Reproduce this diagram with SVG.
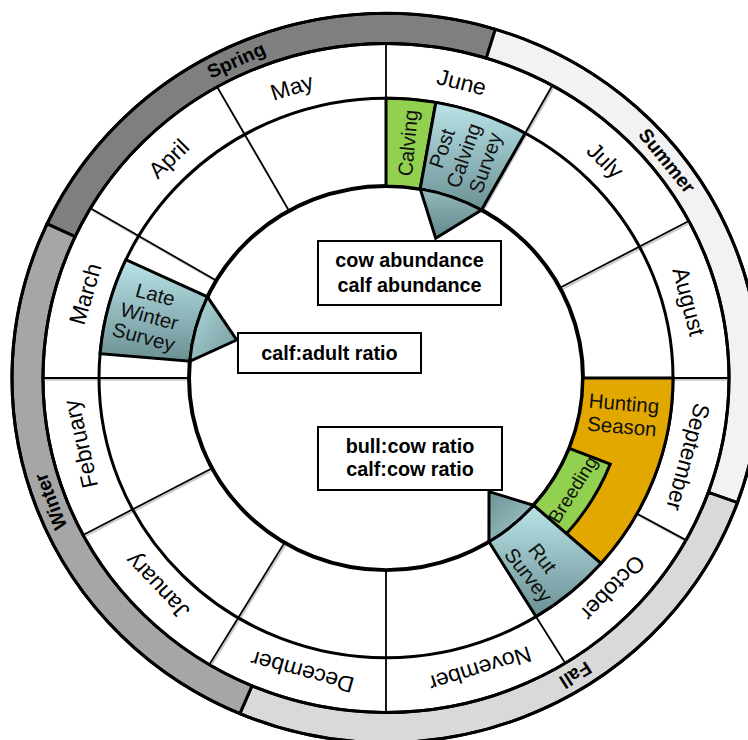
<svg xmlns="http://www.w3.org/2000/svg" width="748" height="740" viewBox="0 0 748 740">
<defs>
<style>
.ring{stroke:#000;stroke-width:3;stroke-linejoin:miter}
.circ{fill:none;stroke:#000;stroke-width:3}
.div{stroke:#000;stroke-width:1.8;fill:none}
.sh{stroke:#c8c8c8;stroke-width:2;fill:none}
.ev{stroke:#000;stroke-width:3;stroke-linejoin:miter}
.m{font-family:"Liberation Sans",Arial,sans-serif;font-size:23px;fill:#000;text-anchor:middle;dominant-baseline:central}
.s{font-family:"Liberation Sans",Arial,sans-serif;font-size:19.5px;font-weight:bold;fill:#000;text-anchor:middle;dominant-baseline:central}
.e{font-family:"Liberation Sans",Arial,sans-serif;font-size:20.5px;fill:#111;text-anchor:middle;dominant-baseline:central}
.b{font-family:"Liberation Sans",Arial,sans-serif;font-size:19.8px;font-weight:bold;fill:#000;text-anchor:middle}
.box{fill:#fff;stroke:#000;stroke-width:2}
</style>
<linearGradient id="gBlue" x1="0" y1="0" x2="0" y2="1"><stop offset="0" stop-color="#b9e4e8"/><stop offset="1" stop-color="#6b9094"/></linearGradient>
<linearGradient id="gTriLW" x1="0" y1="0" x2="1" y2="1"><stop offset="0" stop-color="#b2dade"/><stop offset="1" stop-color="#74999d"/></linearGradient>
<linearGradient id="gTriPC" x1="0" y1="0" x2="0" y2="1"><stop offset="0" stop-color="#94babe"/><stop offset="1" stop-color="#62878b"/></linearGradient>
<linearGradient id="gTriRut" x1="0" y1="0" x2="1" y2="1"><stop offset="0" stop-color="#6d9397"/><stop offset="1" stop-color="#a5cbcf"/></linearGradient>
</defs>
<rect width="748" height="740" fill="#fff"/>
<g transform="translate(386,378) scale(1,0.975)">
  <g id="seasons">
    <path id="season-spring" class="ring" fill="#7f7f7f" d="M -338.96 -158.06 A 374 374 0 0 1 109.35 -357.66 L 100.28 -328.01 A 343 343 0 0 0 -310.86 -144.96 Z"/>
    <path id="season-summer" class="ring" fill="#f2f2f2" d="M 109.35 -357.66 A 374 374 0 0 1 351.44 127.92 L 322.31 117.31 A 343 343 0 0 0 100.28 -328.01 Z"/>
    <path id="season-fall" class="ring" fill="#d9d9d9" d="M 351.44 127.92 A 374 374 0 0 1 -146.13 344.27 L -134.02 315.73 A 343 343 0 0 0 322.31 117.31 Z"/>
    <path id="season-winter" class="ring" fill="#a6a6a6" d="M -146.13 344.27 A 374 374 0 0 1 -338.96 -158.06 L -310.86 -144.96 A 343 343 0 0 0 -134.02 315.73 Z"/>
  </g>
  <g id="month-dividers">
    <g transform="translate(1.2,1.8)">
      <path class="sh" d="M 95.51 -172.30 L 166.29 -300.00 M 173.94 -92.49 L 302.85 -161.03 M 197 0 L 343 0 M 172.30 95.51 L 300.00 166.29 M 102.93 167.97 L 179.22 292.46 M -101.46 168.86 L -176.66 294.01 M -173.94 92.49 L -302.85 161.03 M -197 0 L -343 0 M -169.74 -99.99 L -295.54 -174.09 M -97.01 -171.46 L -168.90 -298.53"/>
    </g>
    <path class="div" d="M 0 -197 L 0 -343 M 95.51 -172.30 L 166.29 -300.00 M 173.94 -92.49 L 302.85 -161.03 M 197 0 L 343 0 M 172.30 95.51 L 300.00 166.29 M 102.93 167.97 L 179.22 292.46 M 0 197 L 0 343 M -101.46 168.86 L -176.66 294.01 M -173.94 92.49 L -302.85 161.03 M -197 0 L -343 0 M -169.74 -99.99 L -295.54 -174.09 M -97.01 -171.46 L -168.90 -298.53"/>
  </g>
  <g id="rings">
    <circle class="circ" r="374"/>
    <circle class="circ" r="343"/>
    <circle class="circ" r="287"/>
    <circle class="circ" r="197" style="stroke-width:4"/>
  </g>
  <g id="hunting-season">
    <path class="ev" fill="#e3a800" d="M 287 0 A 287 287 0 0 1 214.95 190.17 L 147.55 130.54 A 197 197 0 0 0 197 0 Z"/>
  </g>
  <g id="breeding">
    <path class="ev" fill="#92d050" d="M 183.29 72.20 L 224.23 88.33 A 241 241 0 0 1 180.50 159.69 L 147.55 130.54 A 197 197 0 0 0 183.29 72.20 Z"/>
    <text class="e" style="font-size:19px" transform="rotate(121.5) translate(0,-219) rotate(180)">Breeding</text>
  </g>
  <g id="calving">
    <path class="ev" fill="#92d050" d="M 0 -287 A 287 287 0 0 1 49.84 -282.64 L 34.21 -194.01 A 197 197 0 0 0 0 -197 Z"/>
    <text class="e" transform="rotate(5.2) translate(0,-242) rotate(-90)">Calving</text>
  </g>
  <g id="post-calving-survey">
    <path class="ev" fill="url(#gBlue)" d="M 49.84 -282.64 A 287 287 0 0 1 139.14 -251.02 L 95.51 -172.30 A 197 197 0 0 0 34.21 -194.01 Z"/>
    <g transform="rotate(18.8) translate(0,-241) rotate(-90)">
      <text class="e" y="-23">Post</text>
      <text class="e" y="0">Calving</text>
      <text class="e" y="23">Survey</text>
    </g>
  </g>
  <g id="late-winter-survey">
    <path class="ev" fill="url(#gBlue)" d="M -285.91 -25.01 A 287 287 0 0 1 -260.11 -121.29 L -178.54 -83.26 A 197 197 0 0 0 -196.25 -17.17 Z"/>
    <g transform="rotate(285) translate(0,-245) rotate(90)">
      <text class="e" y="-23">Late</text>
      <text class="e" y="0">Winter</text>
      <text class="e" y="22">Survey</text>
    </g>
  </g>
  <g id="rut-survey">
    <path class="ev" fill="url(#gBlue)" d="M 214.95 190.17 A 287 287 0 0 1 149.96 244.71 L 102.93 167.97 A 197 197 0 0 0 147.55 130.54 Z"/>
    <g transform="rotate(142.3) translate(0,-244) rotate(-90)">
      <text class="e" x="-2" y="-11">Rut</text>
      <text class="e" x="3" y="11">Survey</text>
    </g>
  </g>
  <g id="connectors">
    <path class="ev" fill="url(#gTriPC)" d="M 34.21 -194.01 A 197 197 0 0 1 95.51 -172.30 L 49.7 -143.3 Z"/>
    <path class="ev" fill="url(#gTriLW)" d="M -196.25 -17.17 A 197 197 0 0 1 -178.54 -83.26 L -149.3 -39 Z"/>
    <path class="ev" fill="url(#gTriRut)" d="M 147.55 130.54 A 197 197 0 0 1 102.93 167.97 L 103 116.6 Z"/>
  </g>
  <g id="month-labels">
    <text id="month-june" class="m" transform="rotate(14) translate(0,-313)">June</text>
    <text id="month-july" class="m" transform="rotate(44.5) translate(0,-313)">July</text>
    <text id="month-august" class="m" transform="rotate(75.5) translate(0,-313)">August</text>
    <text id="month-september" class="m" transform="rotate(105) translate(0,-313)">September</text>
    <text id="month-october" class="m" transform="rotate(133.5) translate(0,-313)">October</text>
    <text id="month-november" class="m" transform="rotate(162.5) translate(0,-313)">November</text>
    <text id="month-december" class="m" transform="rotate(195.5) translate(0,-313)">December</text>
    <text id="month-january" class="m" transform="rotate(227) translate(0,-313)">January</text>
    <text id="month-february" class="m" transform="rotate(257.5) translate(0,-313)">February</text>
    <text id="month-march" class="m" transform="rotate(286) translate(0,-313)">March</text>
    <text id="month-april" class="m" transform="rotate(316) translate(0,-313)">April</text>
    <text id="month-may" class="m" transform="rotate(342.5) translate(0,-313)">May</text>
  </g>
  <g id="season-labels">
    <text class="s" transform="rotate(335.3) translate(0,-358.5)">Spring</text>
    <text class="s" transform="rotate(51.6) translate(0,-358.5)">Summer</text>
    <text class="s" transform="rotate(148.1) translate(0,-358.5)">Fall</text>
    <text class="s" transform="rotate(249.3) translate(0,-358.5)">Winter</text>
  </g>
</g>
<text class="e" transform="translate(624,403) rotate(5)">Hunting</text>
<text class="e" transform="translate(622,426) rotate(5)">Season</text>
<g id="box-abundance">
  <rect class="box" x="318" y="241" width="183" height="64"/>
  <text class="b" x="409.5" y="267">cow abundance</text>
  <text class="b" x="409.5" y="292">calf abundance</text>
</g>
<g id="box-calf-adult">
  <rect class="box" x="238" y="333" width="183" height="40"/>
  <text class="b" x="329.5" y="360">calf:adult ratio</text>
</g>
<g id="box-ratios">
  <rect class="box" x="318" y="427" width="184" height="63"/>
  <text class="b" x="410" y="453">bull:cow ratio</text>
  <text class="b" x="410" y="476">calf:cow ratio</text>
</g>
</svg>
